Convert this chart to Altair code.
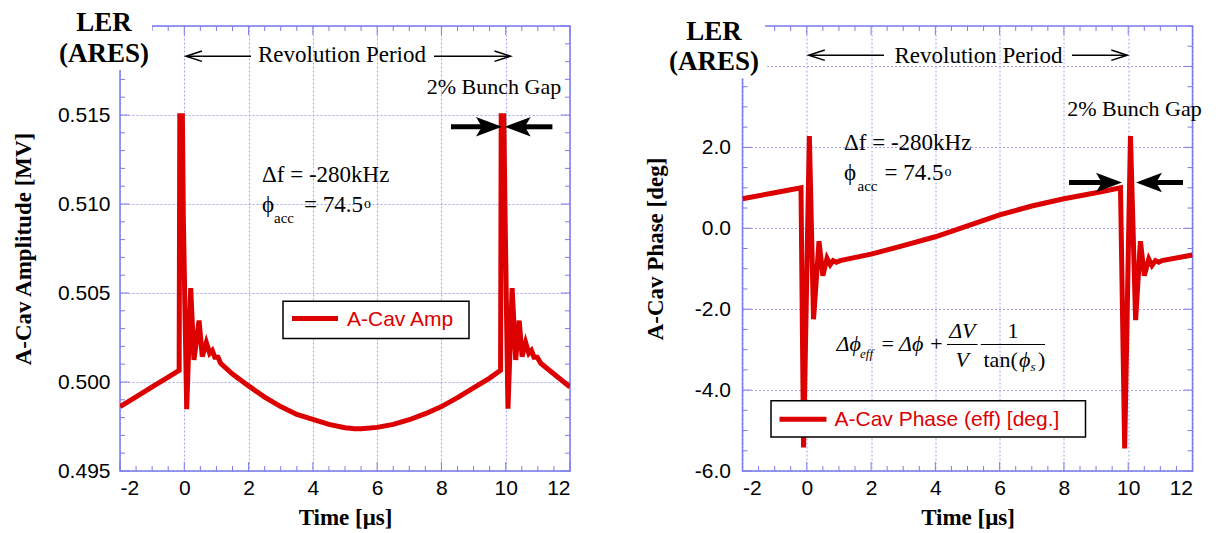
import altair as alt
import numpy as np
import pandas as pd

# ---------------- data: left panel (A-Cav amplitude, MV) ----------------
amp_time = [-2.0, -1.5, -1.0, -0.5, -0.16, -0.14, -0.06, -0.03, 0.075, 0.20, 0.30,
            0.46, 0.56, 0.685, 0.79, 0.87, 0.95, 1.05, 1.13, 1.5, 2.0, 2.5, 3.0,
            3.5, 4.0, 4.5, 5.0, 5.3, 5.5, 6.0, 6.5, 7.0, 7.5, 8.0, 8.5, 9.0, 9.5,
            9.84, 9.86, 9.94, 9.98, 10.07, 10.20, 10.31, 10.42, 10.51, 10.62,
            10.72, 10.80, 10.88, 10.98, 11.09, 11.5, 12.0]
amp_value = [0.49862, 0.49917, 0.49972, 0.50027, 0.50066, 0.51496, 0.51496, 0.50930,
             0.49847, 0.50527, 0.50124, 0.50345, 0.50143, 0.50222, 0.50161, 0.50177,
             0.50139, 0.50139, 0.50105, 0.50045, 0.49978, 0.49915, 0.49862, 0.49818,
             0.49790, 0.49762, 0.49743, 0.49737, 0.49738, 0.49745, 0.49762, 0.49788,
             0.49822, 0.49862, 0.49912, 0.49967, 0.50022, 0.50066, 0.51496, 0.51496,
             0.50930, 0.49850, 0.50527, 0.50124, 0.50345, 0.50143, 0.50222, 0.50161,
             0.50177, 0.50139, 0.50139, 0.50105, 0.50045, 0.49972]

# ---------------- data: right panel (A-Cav effective phase, deg) ----------------
phase_time = [-2.0, -1.0, -0.18, -0.10, 0.08, 0.21, 0.38, 0.50, 0.63, 0.73, 0.82,
              0.92, 1.04, 2.0, 3.0, 4.0, 5.0, 6.0, 7.0, 8.0, 9.0, 9.76, 9.89,
              10.07, 10.23, 10.38, 10.50, 10.64, 10.74, 10.85, 10.95, 11.05, 12.0]
phase_value = [0.73, 0.88, 1.00, -5.42, 2.28, -2.25, -0.32, -1.17, -0.74, -0.90,
               -0.80, -0.84, -0.80, -0.64, -0.43, -0.21, 0.06, 0.33, 0.55, 0.73,
               0.88, 1.00, -5.44, 2.28, -2.27, -0.32, -1.17, -0.76, -0.92, -0.80,
               -0.84, -0.80, -0.66]

x_major = [-2, 0, 2, 4, 6, 8, 10, 12]
amp_major = [0.495, 0.500, 0.505, 0.510, 0.515, 0.520]
phase_major = [-6, -4, -2, 0, 2, 4]
x_minor = [v for v in np.arange(-2, 12.001, 0.5) if abs(v - round(v / 2) * 2) > 1e-6]
amp_minor = [round(0.495 + 0.001 * k, 3) for k in range(26) if k % 5 != 0]
phase_minor = [v for v in np.arange(-6, 5.001, 0.5) if abs(v - round(v / 2) * 2) > 1e-6]

SERIF = "Liberation Serif"
SANS = "Liberation Sans"
RED = "#dc0000"
FRAME = "#7b7bef"
GRID = "#a4a4f2"
W, H = 450, 445

ONE = pd.DataFrame({"a": [0]})


def text(s, x, y, size, font=SERIF, weight="normal", style="normal", align="left", color="black"):
    return alt.Chart(ONE).mark_text(
        text=s, font=font, fontSize=size, fontWeight=weight, fontStyle=style,
        align=align, baseline="alphabetic", color=color
    ).encode(x=alt.value(x), y=alt.value(y))


def hrule(x1, x2, y, color="black", width=1.5):
    return alt.Chart(ONE).mark_rule(color=color, strokeWidth=width).encode(
        x=alt.value(x1), x2=alt.value(x2), y=alt.value(y))


def box(x1, x2, y1, y2, fill="white", stroke=None, sw=1.5):
    kw = dict(fill=fill)
    if stroke:
        kw.update(stroke=stroke, strokeWidth=sw)
    else:
        kw.update(strokeWidth=0)
    return alt.Chart(ONE).mark_rect(**kw).encode(
        x=alt.value(x1), x2=alt.value(x2), y=alt.value(y1), y2=alt.value(y2))


def head(cx, cy, path, size, filled=True):
    kw = dict(shape=path, size=size, opacity=1)
    if filled:
        kw.update(filled=True, fill="black", strokeWidth=0)
    else:
        kw.update(filled=False, stroke="black", strokeWidth=1.5)
    return alt.Chart(ONE).mark_point(**kw).encode(x=alt.value(cx), y=alt.value(cy))


OPEN_L = "M1,-0.65L-1,0L1,0.65"
OPEN_R = "M-1,-0.65L1,0L-1,0.65"
BLK_L = "M-1,0L1,-0.75L0.55,0L1,0.75Z"
BLK_R = "M1,0L-1,-0.75L-0.55,0L-1,0.75Z"


def thin_arrows(y, l_tip, l_end, r_start, r_tip):
    return [hrule(l_tip + 1, l_end, y), head(l_tip + 8, y, OPEN_L, 256, False),
            hrule(r_start, r_tip - 1, y), head(r_tip - 8, y, OPEN_R, 256, False)]


def black_arrows(y, l_tail, l_tip, r_tip, r_tail):
    return [hrule(l_tail, l_tip - 18, y, width=5), head(l_tip - 13, y, BLK_R, 676),
            hrule(r_tip + 18, r_tail, y, width=5), head(r_tip + 13, y, BLK_L, 676)]


def neg_fmt(fmt):
    return ("datum.value < 0 ? '-' + format(-datum.value, '%s') : format(datum.value, '%s')"
            % (fmt, fmt))


xscale = alt.Scale(domain=[-2, 12], nice=False, zero=False)
XAXIS = alt.Axis(values=x_major, labelExpr=neg_fmt("d"), grid=True, gridColor=GRID,
                 gridDash=[2, 2], gridWidth=1, domain=False, ticks=False,
                 labelFont=SANS, labelFontSize=21, labelColor="black", labelPadding=6,
                 title="Time [μs]", titleFont=SERIF, titleFontSize=23,
                 titleFontWeight="bold", titleColor="black", titlePadding=8)


def yaxis(values, expr, title, pad, tpad):
    return alt.Axis(values=values, labelExpr=expr, grid=True, gridColor=GRID,
                    gridDash=[2, 2], gridWidth=1, domain=False, ticks=False,
                    labelFont=SANS, labelFontSize=21, labelColor="black", labelPadding=pad,
                    title=title, titleFont=SERIF, titleFontSize=23,
                    titleFontWeight="bold", titleColor="black", titlePadding=tpad)


def frame_layers(yscale, yax, y_major_vals, y_minor_vals):
    layers = []
    for vals, L in ((x_minor, 5), (x_major, 9)):
        d = pd.DataFrame({"t": vals})
        b = alt.Chart(d).mark_rule(color=FRAME, strokeWidth=1)
        xe = alt.X("t:Q", scale=xscale, axis=XAXIS)
        layers.append(b.encode(x=xe, y=alt.value(H), y2=alt.value(H - L)))
        layers.append(b.encode(x=xe, y=alt.value(0), y2=alt.value(L)))
    for vals, L in ((y_minor_vals, 5), (y_major_vals, 9)):
        d = pd.DataFrame({"v": vals})
        b = alt.Chart(d).mark_rule(color=FRAME, strokeWidth=1)
        ye = alt.Y("v:Q", scale=yscale, axis=yax)
        layers.append(b.encode(y=ye, x=alt.value(0), x2=alt.value(L)))
        layers.append(b.encode(y=ye, x=alt.value(W), x2=alt.value(W - L)))
    layers.append(alt.Chart(ONE).mark_rect(fillOpacity=0, stroke=FRAME, strokeWidth=1.5).encode(
        x=alt.value(0), x2=alt.value(W), y=alt.value(0), y2=alt.value(H)))
    return layers


# ---------------- left panel ----------------
amp_df = pd.DataFrame({"t": amp_time, "v": amp_value})
amp_scale = alt.Scale(domain=[0.495, 0.520], nice=False, zero=False)
AMP_AXIS = yaxis(amp_major, "datum.value > 0.5175 ? '' : format(datum.value, '.3f')",
                 "A-Cav Amplitude [MV]", 10, 22)
amp_line = alt.Chart(amp_df).mark_line(color=RED, strokeWidth=5, clip=True).encode(
    x=alt.X("t:Q", scale=xscale, axis=XAXIS),
    y=alt.Y("v:Q", scale=amp_scale, axis=AMP_AXIS))

left_layers = frame_layers(amp_scale, AMP_AXIS, amp_major, amp_minor) + [amp_line]
left_layers += [box(-30, 32, -2, 44),
                text("LER", -16, 4.5, 27, weight="bold", align="center"),
                text("(ARES)", -16, 35.5, 27, weight="bold", align="center"),
                text("Revolution Period", 222, 35.5, 23, align="center")]
left_layers += thin_arrows(30.2, 66, 131, 314, 390.5)
left_layers += [text("2% Bunch Gap", 374, 68.2, 22, align="center")]
left_layers += black_arrows(100.8, 331, 382, 384.7, 432.4)
left_layers += [text("Δf = -280kHz", 142, 155.8, 23),
                text("ϕ", 142, 185.5, 23),
                text("acc", 154, 196.5, 15),
                text("= 74.5", 184, 185.5, 23),
                text("o", 244, 181.5, 14),
                box(163, 349, 275.2, 312.5, stroke="black"),
                hrule(172, 218, 292.5, color=RED, width=5),
                text("A-Cav Amp", 227, 300.2, 21, font=SANS, color=RED)]
left = alt.layer(*left_layers).properties(width=W, height=H)

# ---------------- right panel ----------------
ph_df = pd.DataFrame({"t": phase_time, "v": phase_value})
ph_scale = alt.Scale(domain=[-6, 5], nice=False, zero=False)
PH_AXIS = yaxis(phase_major, "datum.value > 3 ? '' : (" + neg_fmt(".1f") + ")",
                "A-Cav Phase [deg]", 12, 27)
ph_line = alt.Chart(ph_df).mark_line(color=RED, strokeWidth=5, clip=True).encode(
    x=alt.X("t:Q", scale=xscale, axis=XAXIS),
    y=alt.Y("v:Q", scale=ph_scale, axis=PH_AXIS))

right_layers = frame_layers(ph_scale, PH_AXIS, phase_major, phase_minor) + [ph_line]
right_layers += [box(-70, 22.5, -2, 52.5),
                 text("LER", -28.5, 14.2, 27, weight="bold", align="center"),
                 text("(ARES)", -28.5, 44.2, 27, weight="bold", align="center"),
                 text("Revolution Period", 236, 36.8, 23, align="center")]
right_layers += thin_arrows(29.2, 66.3, 141.5, 329.5, 384.8)
right_layers += [text("2% Bunch Gap", 392, 90.2, 22, align="center")]
right_layers += black_arrows(156.5, 326.5, 379.5, 393.5, 440.5)
right_layers += [text("Δf = -280kHz", 101.5, 124.2, 23),
                 text("ϕ", 101.5, 154.2, 23),
                 text("acc", 115, 165.2, 15),
                 text("= 74.5", 142, 154.2, 23),
                 text("o", 202, 150.2, 14),
                 # formula
                 text("Δϕ", 94, 324.8, 22, style="italic"),
                 text("eff", 117.5, 331.8, 13, style="italic"),
                 text("=", 139, 324.8, 22),
                 text("Δϕ +", 156.5, 324.8, 22, style="italic"),
                 hrule(204.5, 235, 318.5, width=1),
                 text("ΔV", 219.8, 311.5, 22, style="italic", align="center"),
                 text("V", 219.8, 340.8, 22, style="italic", align="center"),
                 hrule(238.3, 302.5, 318.5, width=1),
                 text("1", 270.5, 311.5, 22, align="center"),
                 text("tan(", 241, 340.8, 22),
                 text("ϕ", 276.5, 340.8, 22, style="italic"),
                 text("s", 288, 345, 13, style="italic"),
                 text(")", 295.5, 340.8, 22),
                 # legend
                 box(28.5, 343, 374.8, 411, stroke="black"),
                 hrule(37, 84, 393.2, color=RED, width=5),
                 text("A-Cav Phase (eff) [deg.]", 92, 400.2, 21, font=SANS, color=RED)]
right = alt.layer(*right_layers).properties(width=W, height=H)

chart = alt.hconcat(left, right, spacing=172.5, bounds="flush").properties(
    padding={"left": 4, "top": 0, "right": 0, "bottom": 0},
    background="white",
).configure_view(stroke=None)

chart.save("out.html", embed_options={"renderer": "svg", "actions": False})
